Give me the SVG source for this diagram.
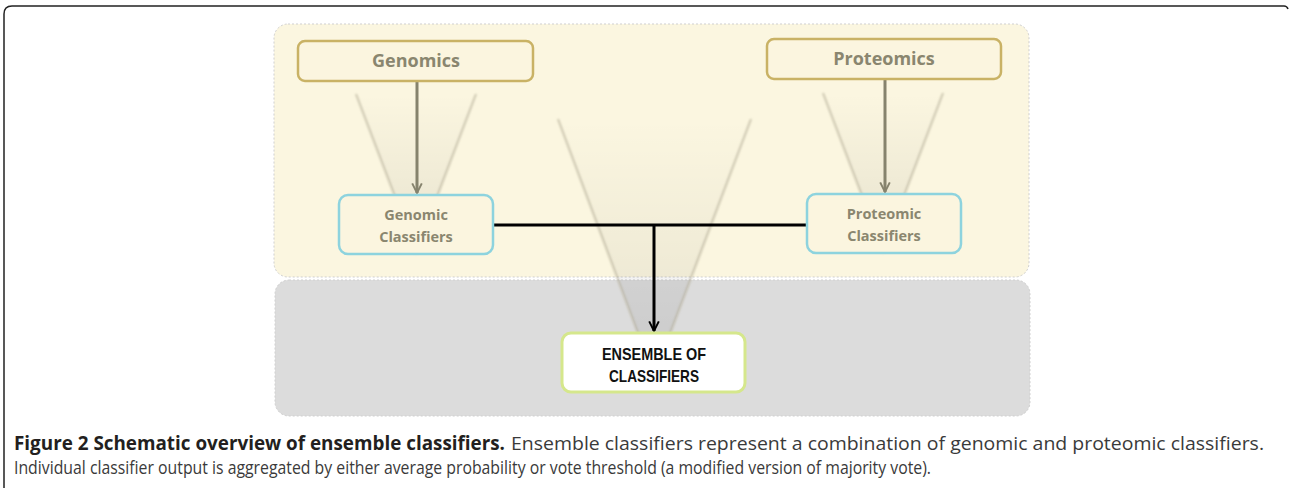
<svg xmlns="http://www.w3.org/2000/svg" width="1290" height="488" viewBox="0 0 1290 488">
<style>
.panel{stroke:#cfcfcf;stroke-width:1;stroke-dasharray:2 2}
.src{fill:#fbf5df;stroke:#c9b265;stroke-width:2.5}
.cls{fill:#fbf5df;stroke:#8dd3de;stroke-width:2.5}
.ens{fill:#ffffff;stroke:#d5e78c;stroke-width:3}
.t1{font-family:"Open Sans","Liberation Sans",sans-serif;font-weight:bold;fill:#8a866f;text-anchor:middle}
.t2{font-family:"Liberation Sans Narrow","Liberation Sans",sans-serif;font-weight:bold;fill:#111;text-anchor:middle}
.cap{font-family:"Open Sans","Liberation Sans",sans-serif}
.edge{fill:none;stroke:#b0aa94;stroke-width:2;stroke-opacity:0.65;filter:url(#blur)}
.olive{stroke:#86836d;stroke-width:3;fill:none}
.blk{stroke:#000;stroke-width:3;fill:none}
</style>
<defs>
<linearGradient id="cone" x1="0" y1="0" x2="0" y2="1">
<stop offset="0" stop-color="#000" stop-opacity="0"/>
<stop offset="1" stop-color="#000" stop-opacity="0.08"/>
</linearGradient>
<filter id="blur" x="-20%" y="-5%" width="140%" height="110%"><feGaussianBlur stdDeviation="1"/></filter>
<marker id="ao" viewBox="0 0 10 10" refX="9" refY="5" markerWidth="4" markerHeight="4" orient="auto" markerUnits="strokeWidth">
<path d="M1,1 L9,5 L1,9" fill="none" stroke="#86836d" stroke-width="1.6"/>
</marker>
<marker id="ab" viewBox="0 0 10 10" refX="9" refY="5" markerWidth="4" markerHeight="4" orient="auto" markerUnits="strokeWidth">
<path d="M1,1 L9,5 L1,9" fill="none" stroke="#000" stroke-width="1.6"/>
</marker>
</defs>
<rect width="1290" height="488" fill="#fff"/>
<path d="M4,490 L4,14 Q4,6 12,6 L1284,6 Q1287,6 1288,9" fill="none" stroke="#222" stroke-width="1.5"/>

<g id="panels">
<rect class="panel" x="274" y="24" width="755" height="253" rx="14" fill="#fbf6e0"/>
<rect class="panel" x="275" y="280" width="755" height="136" rx="14" fill="#dcdcdc"/>
</g>

<g id="cones">
<polygon points="356,94 476,94 416,252" fill="url(#cone)"/>
<path class="edge" d="M356,94 L416,252 L476,94"/>
<polygon points="823,93 943,93 883,251" fill="url(#cone)"/>
<path class="edge" d="M823,93 L883,251 L943,93"/>
<polygon points="558,119 751,119 654,376" fill="url(#cone)"/>
<path class="edge" d="M558,119 L654,376 L751,119"/>
</g>

<g id="connectors">
<line class="olive" x1="417" y1="81" x2="417" y2="193" marker-end="url(#ao)"/>
<line class="olive" x1="885" y1="79" x2="885" y2="192" marker-end="url(#ao)"/>
<path class="blk" d="M493,225 L807,225"/>
<line class="blk" x1="654" y1="225" x2="654" y2="331" marker-end="url(#ab)"/>
</g>

<g id="genomics">
<rect class="src" x="298" y="41" width="235" height="40" rx="7"/>
<text class="t1" x="416" y="67" font-size="18">Genomics</text>
</g>
<g id="proteomics">
<rect class="src" x="767" y="39" width="234" height="40" rx="7"/>
<text class="t1" x="884" y="65" font-size="18">Proteomics</text>
</g>
<g id="genomic-classifiers">
<rect class="cls" x="339" y="195" width="154" height="59" rx="9"/>
<text class="t1" x="416" y="220" font-size="14.5">Genomic</text>
<text class="t1" x="416" y="242" font-size="14.5">Classifiers</text>
</g>
<g id="proteomic-classifiers">
<rect class="cls" x="807" y="194" width="154" height="59" rx="9"/>
<text class="t1" x="884" y="219" font-size="14.5">Proteomic</text>
<text class="t1" x="884" y="241" font-size="14.5">Classifiers</text>
</g>
<g id="ensemble">
<rect class="ens" x="562" y="333" width="183" height="59" rx="9"/>
<text class="t2" x="654" y="360" font-size="17" textLength="104" lengthAdjust="spacingAndGlyphs">ENSEMBLE OF</text>
<text class="t2" x="654" y="382" font-size="17" textLength="90" lengthAdjust="spacingAndGlyphs">CLASSIFIERS</text>
</g>

<g id="caption">
<text class="cap" x="14" y="450" font-size="19" font-weight="bold" fill="#231f20" textLength="491" lengthAdjust="spacingAndGlyphs">Figure 2 Schematic overview of ensemble classifiers.</text>
<text class="cap" x="511" y="450" font-size="18.5" fill="#3a3a3a" textLength="753" lengthAdjust="spacingAndGlyphs">Ensemble classifiers represent a combination of genomic and proteomic classifiers.</text>
<text class="cap" x="14" y="474" font-size="18.5" fill="#3a3a3a" textLength="917" lengthAdjust="spacingAndGlyphs">Individual classifier output is aggregated by either average probability or vote threshold (a modified version of majority vote).</text>
</g>
</svg>
